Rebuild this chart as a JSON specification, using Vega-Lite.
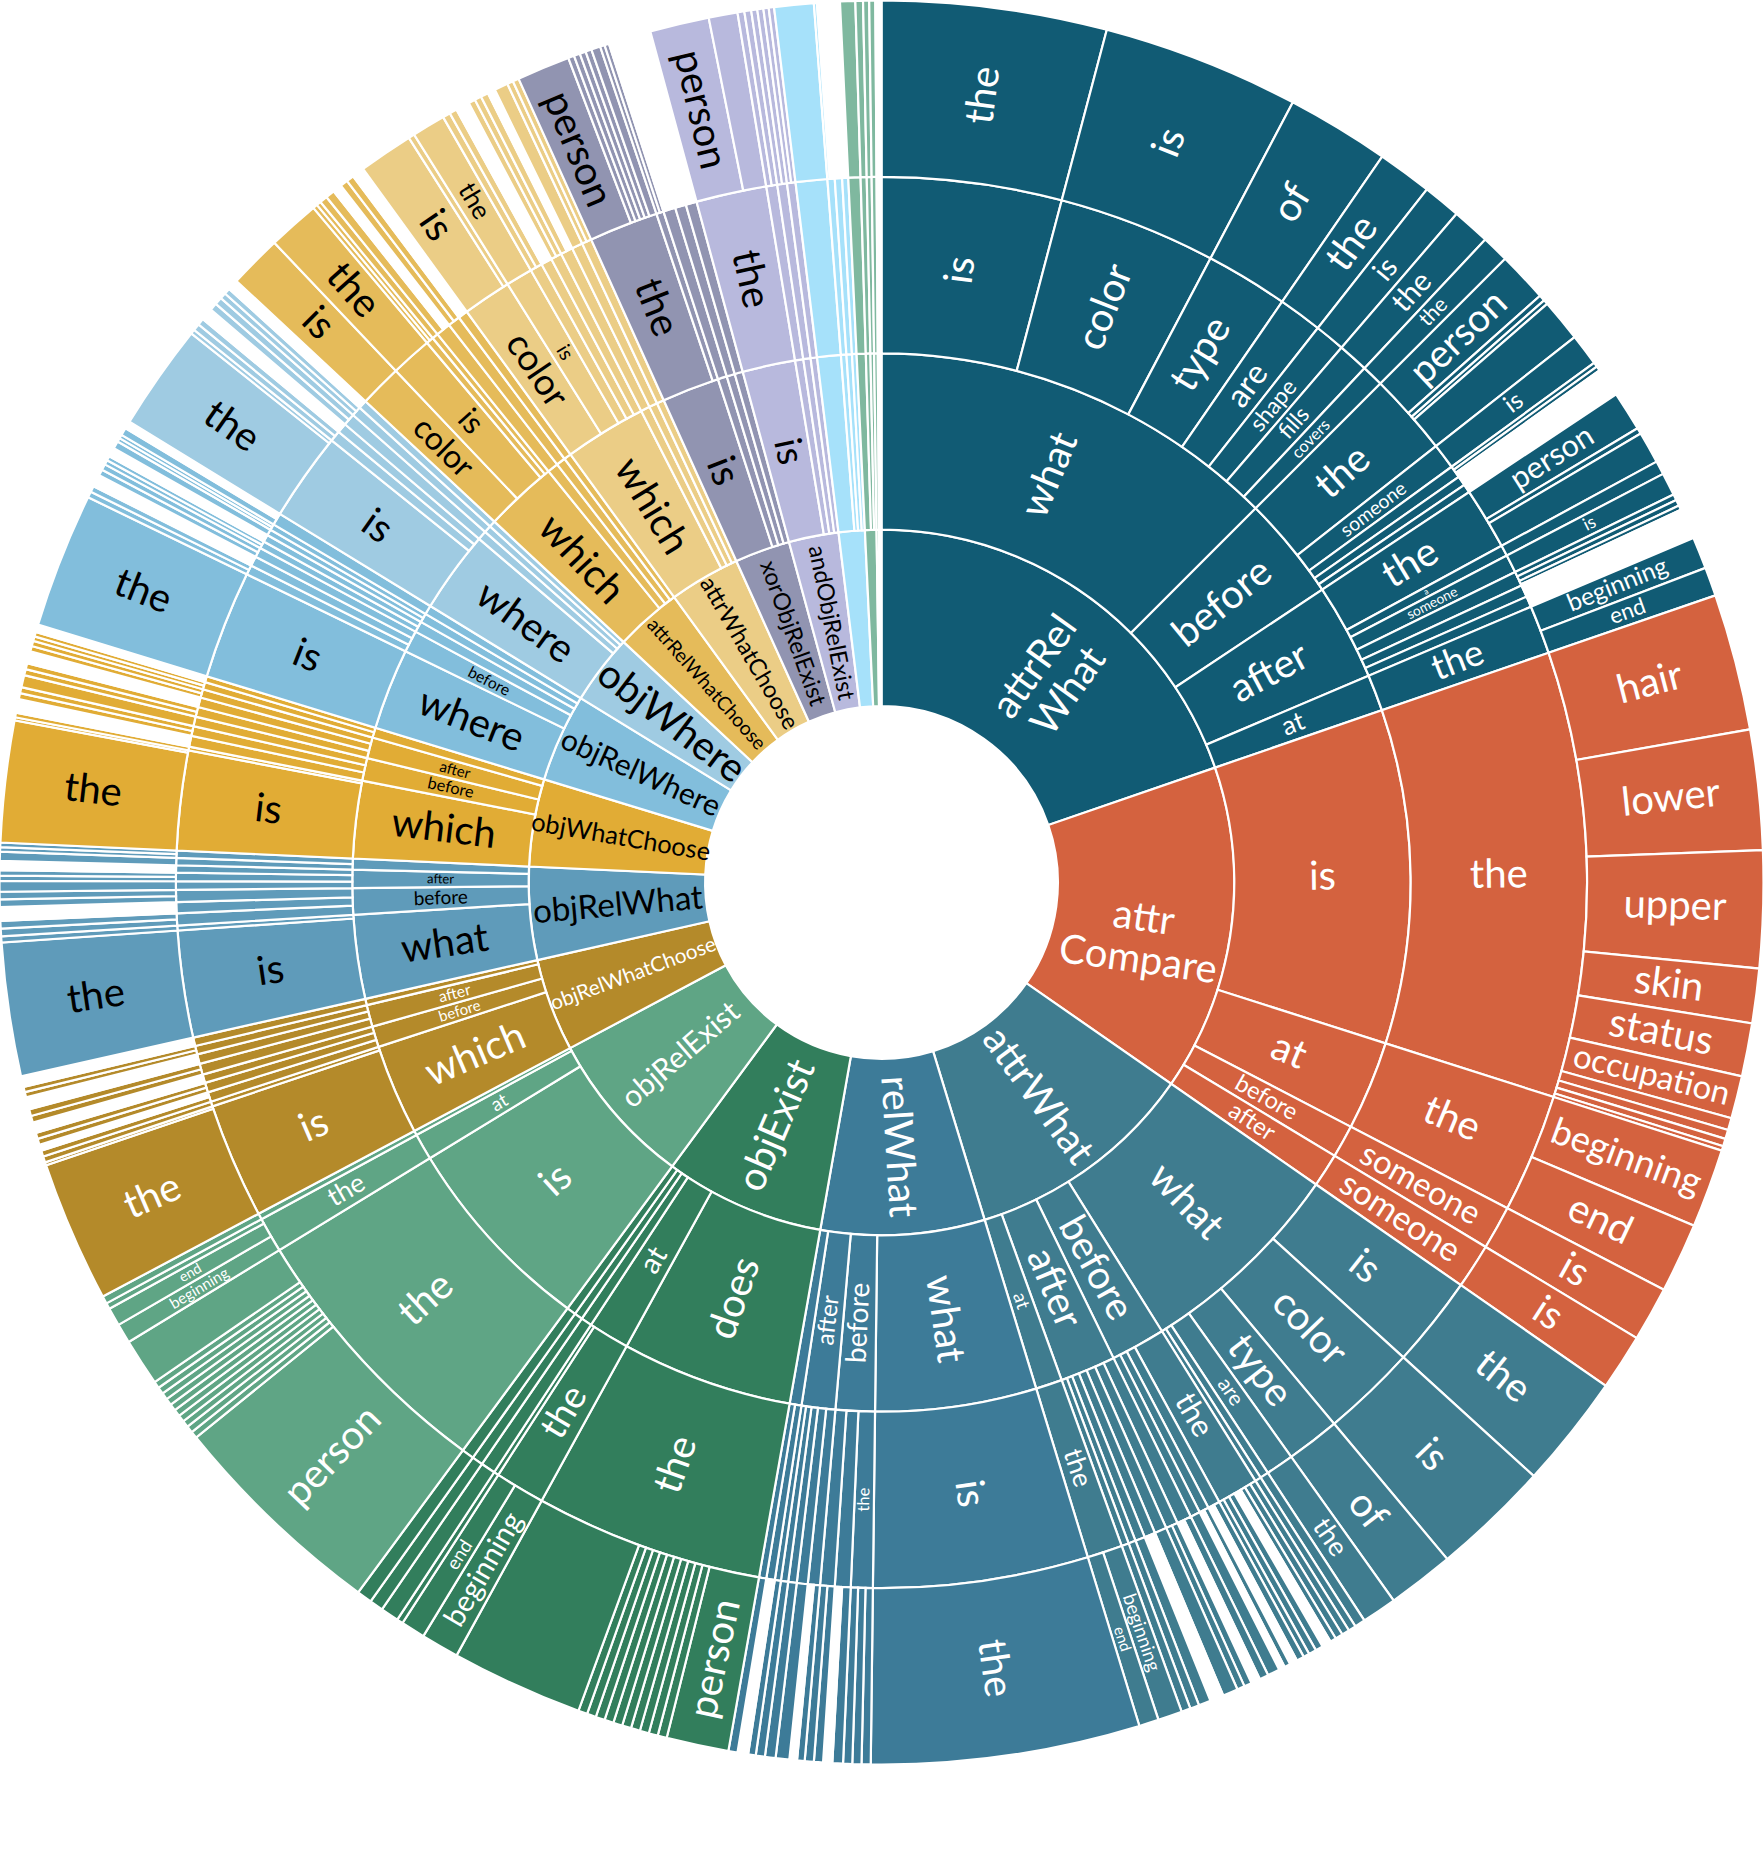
{
"$schema": "https://vega.github.io/schema/vega-lite/v6.json",
"width": 1763, "height": 1765, "padding": 0, "autosize": {"type": "none"},
"background": "white",
"config": {"view": {"stroke": null}},
"data": {"values": [
{"d":1,"c":"attrRelWhat","l":"attrRel\nWhat","v":71},
{"d":2,"c":"attrRelWhat","l":"what","v":45},{"d":2,"c":"attrRelWhat","l":"before","v":11.4},{"d":2,"c":"attrRelWhat","l":"after","v":10.6},{"d":2,"c":"attrRelWhat","l":"at","v":4},
{"d":3,"c":"attrRelWhat","l":"is","v":14.8},{"d":3,"c":"attrRelWhat","l":"color","v":13},{"d":3,"c":"attrRelWhat","l":"type","v":6.8},{"d":3,"c":"attrRelWhat","l":"are","v":3.6},{"d":3,"c":"attrRelWhat","l":"shape","v":2.5},{"d":3,"c":"attrRelWhat","l":"fills","v":2.5},{"d":3,"c":"attrRelWhat","l":"covers","v":1.8},
{"d":3,"c":"attrRelWhat","l":"the","v":6.8},{"d":3,"c":"attrRelWhat","l":"someone","v":2.1},{"d":3,"c":"attrRelWhat","l":"","v":1.0},{"d":3,"c":"attrRelWhat","l":"","v":0.8},{"d":3,"c":"attrRelWhat","l":"","v":0.7},
{"d":3,"c":"attrRelWhat","l":"the","v":5.1},{"d":3,"c":"attrRelWhat","l":"a","v":0.9},{"d":3,"c":"attrRelWhat","l":"someone","v":1.5},{"d":3,"c":"attrRelWhat","l":"","v":1.2},{"d":3,"c":"attrRelWhat","l":"","v":1.0},{"d":3,"c":"attrRelWhat","l":"","v":0.9},
{"d":3,"c":"attrRelWhat","l":"the","v":4},
{"d":4,"c":"attrRelWhat","l":"the","v":14.8},{"d":4,"c":"attrRelWhat","l":"is","v":13},{"d":4,"c":"attrRelWhat","l":"of","v":6.8},{"d":4,"c":"attrRelWhat","l":"the","v":3.6},{"d":4,"c":"attrRelWhat","l":"is","v":2.5},{"d":4,"c":"attrRelWhat","l":"the","v":2.5},{"d":4,"c":"attrRelWhat","l":"the","v":1.8},
{"d":4,"c":"attrRelWhat","l":"person","v":3.3},{"d":4,"c":"attrRelWhat","l":"","v":0.4},{"d":4,"c":"attrRelWhat","l":"","v":0.3},{"d":4,"c":"attrRelWhat","l":"","v":2.8},
{"d":4,"c":"attrRelWhat","l":"is","v":2.1},{"d":4,"c":"attrRelWhat","l":"","v":0.3},{"d":4,"c":"attrRelWhat","l":"","v":0.3},{"d":4,"c":"gap","l":"","v":1.9},
{"d":4,"c":"attrRelWhat","l":"person","v":2.6},{"d":4,"c":"attrRelWhat","l":"","v":0.4},{"d":4,"c":"attrRelWhat","l":"","v":2.1},{"d":4,"c":"attrRelWhat","l":"","v":0.9},{"d":4,"c":"attrRelWhat","l":"is","v":1.5},
{"d":4,"c":"attrRelWhat","l":"","v":0.4},{"d":4,"c":"attrRelWhat","l":"","v":0.4},{"d":4,"c":"attrRelWhat","l":"","v":0.3},{"d":4,"c":"gap","l":"","v":2.0},
{"d":4,"c":"attrRelWhat","l":"beginning","v":2.1},{"d":4,"c":"attrRelWhat","l":"end","v":1.9},

{"d":1,"c":"attrCompare","l":"attr\nCompare","v":53.8},
{"d":2,"c":"attrCompare","l":"is","v":36.7},{"d":2,"c":"attrCompare","l":"at","v":9.8},{"d":2,"c":"attrCompare","l":"before","v":3.6},{"d":2,"c":"attrCompare","l":"after","v":3.7},
{"d":3,"c":"attrCompare","l":"the","v":36.7},{"d":3,"c":"attrCompare","l":"the","v":9.8},{"d":3,"c":"attrCompare","l":"someone","v":3.6},{"d":3,"c":"attrCompare","l":"someone","v":3.7},
{"d":4,"c":"attrCompare","l":"hair","v":9},{"d":4,"c":"attrCompare","l":"lower","v":7.9},{"d":4,"c":"attrCompare","l":"upper","v":7.7},{"d":4,"c":"attrCompare","l":"skin","v":3.6},{"d":4,"c":"attrCompare","l":"status","v":3.5},{"d":4,"c":"attrCompare","l":"occupation","v":2.8},
{"d":4,"c":"attrCompare","l":"","v":0.8},{"d":4,"c":"attrCompare","l":"","v":0.6},{"d":4,"c":"attrCompare","l":"","v":0.5},{"d":4,"c":"attrCompare","l":"","v":0.3},
{"d":4,"c":"attrCompare","l":"beginning","v":5.2},{"d":4,"c":"attrCompare","l":"end","v":4.6},{"d":4,"c":"attrCompare","l":"is","v":3.6},{"d":4,"c":"attrCompare","l":"is","v":3.7},

{"d":1,"c":"attrWhat","l":"attrWhat","v":38.2},
{"d":2,"c":"attrWhat","l":"what","v":23.2},{"d":2,"c":"attrWhat","l":"before","v":6},{"d":2,"c":"attrWhat","l":"after","v":6.1},{"d":2,"c":"attrWhat","l":"at","v":2.9},
{"d":3,"c":"attrWhat","l":"is","v":7.5},{"d":3,"c":"attrWhat","l":"color","v":7.8},{"d":3,"c":"attrWhat","l":"type","v":4.4},{"d":3,"c":"attrWhat","l":"are","v":2.3},{"d":3,"c":"attrWhat","l":"","v":0.7},{"d":3,"c":"attrWhat","l":"","v":0.5},
{"d":3,"c":"attrWhat","l":"the","v":3.4},{"d":3,"c":"attrWhat","l":"","v":1.0},{"d":3,"c":"attrWhat","l":"","v":0.8},{"d":3,"c":"attrWhat","l":"","v":0.8},
{"d":3,"c":"attrWhat","l":"","v":1.2},{"d":3,"c":"attrWhat","l":"","v":1.0},{"d":3,"c":"attrWhat","l":"","v":1.0},{"d":3,"c":"attrWhat","l":"","v":0.9},{"d":3,"c":"attrWhat","l":"","v":0.8},{"d":3,"c":"attrWhat","l":"","v":0.6},{"d":3,"c":"attrWhat","l":"","v":0.6},
{"d":3,"c":"attrWhat","l":"the","v":2.9},
{"d":4,"c":"attrWhat","l":"the","v":7.5},{"d":4,"c":"attrWhat","l":"is","v":7.8},{"d":4,"c":"attrWhat","l":"of","v":4.4},{"d":4,"c":"attrWhat","l":"the","v":2.3},{"d":4,"c":"attrWhat","l":"","v":0.7},{"d":4,"c":"attrWhat","l":"","v":0.5},
{"d":4,"c":"attrWhat","l":"","v":0.5},{"d":4,"c":"attrWhat","l":"","v":0.5},{"d":4,"c":"attrWhat","l":"","v":0.4},{"d":4,"c":"gap","l":"","v":0.6},{"d":4,"c":"attrWhat","l":"","v":0.5},{"d":4,"c":"attrWhat","l":"","v":0.5},{"d":4,"c":"attrWhat","l":"","v":0.4},
{"d":4,"c":"attrWhat","l":"","v":0.5},{"d":4,"c":"gap","l":"","v":0.5},{"d":4,"c":"attrWhat","l":"","v":0.4},{"d":4,"c":"gap","l":"","v":0.4},{"d":4,"c":"attrWhat","l":"","v":0.8},
{"d":4,"c":"attrWhat","l":"","v":0.6},{"d":4,"c":"gap","l":"","v":0.6},{"d":4,"c":"attrWhat","l":"","v":0.5},{"d":4,"c":"attrWhat","l":"","v":0.5},{"d":4,"c":"attrWhat","l":"","v":1.0},{"d":4,"c":"gap","l":"","v":0.9},{"d":4,"c":"attrWhat","l":"","v":0.8},{"d":4,"c":"attrWhat","l":"","v":0.6},{"d":4,"c":"attrWhat","l":"","v":0.6},
{"d":4,"c":"attrWhat","l":"beginning","v":1.6},{"d":4,"c":"attrWhat","l":"end","v":1.3},

{"d":1,"c":"relWhat","l":"relWhat","v":27},
{"d":2,"c":"relWhat","l":"what","v":17.7},{"d":2,"c":"relWhat","l":"before","v":4.3},{"d":2,"c":"relWhat","l":"after","v":3.7},{"d":2,"c":"relWhat","l":"","v":1.3},
{"d":3,"c":"relWhat","l":"is","v":17.7},{"d":3,"c":"relWhat","l":"the","v":1.8},{"d":3,"c":"relWhat","l":"","v":1.3},{"d":3,"c":"relWhat","l":"","v":1.2},{"d":3,"c":"relWhat","l":"","v":1.0},{"d":3,"c":"relWhat","l":"","v":0.9},{"d":3,"c":"relWhat","l":"","v":0.7},{"d":3,"c":"relWhat","l":"","v":0.6},{"d":3,"c":"relWhat","l":"","v":0.5},{"d":3,"c":"relWhat","l":"","v":0.7},{"d":3,"c":"relWhat","l":"","v":0.6},
{"d":4,"c":"relWhat","l":"the","v":17.7},{"d":4,"c":"relWhat","l":"","v":0.6},{"d":4,"c":"relWhat","l":"","v":0.6},{"d":4,"c":"relWhat","l":"","v":0.6},{"d":4,"c":"relWhat","l":"","v":0.7},{"d":4,"c":"gap","l":"","v":0.6},{"d":4,"c":"relWhat","l":"","v":0.6},{"d":4,"c":"relWhat","l":"","v":0.6},
{"d":4,"c":"relWhat","l":"","v":0.5},{"d":4,"c":"gap","l":"","v":0.5},{"d":4,"c":"relWhat","l":"","v":0.9},{"d":4,"c":"relWhat","l":"","v":0.7},{"d":4,"c":"relWhat","l":"","v":0.6},{"d":4,"c":"relWhat","l":"","v":0.5},{"d":4,"c":"gap","l":"","v":0.7},{"d":4,"c":"relWhat","l":"","v":0.6},

{"d":1,"c":"objExist","l":"objExist","v":26.4},
{"d":2,"c":"objExist","l":"does","v":18.8},{"d":2,"c":"objExist","l":"at","v":4.5},{"d":2,"c":"objExist","l":"","v":1.2},{"d":2,"c":"objExist","l":"","v":0.9},{"d":2,"c":"objExist","l":"","v":1.0},
{"d":3,"c":"objExist","l":"the","v":18.8},{"d":3,"c":"objExist","l":"the","v":4.1},{"d":3,"c":"objExist","l":"","v":0.4},{"d":3,"c":"objExist","l":"","v":1.2},{"d":3,"c":"objExist","l":"","v":0.9},{"d":3,"c":"objExist","l":"","v":1.0},
{"d":4,"c":"objExist","l":"person","v":4.1},
{"d":4,"c":"objExist","l":"","v":0.6},{"d":4,"c":"objExist","l":"","v":0.6},{"d":4,"c":"objExist","l":"","v":0.6},{"d":4,"c":"objExist","l":"","v":0.6},{"d":4,"c":"objExist","l":"","v":0.6},{"d":4,"c":"objExist","l":"","v":0.6},{"d":4,"c":"objExist","l":"","v":0.6},{"d":4,"c":"objExist","l":"","v":0.6},{"d":4,"c":"objExist","l":"","v":0.6},{"d":4,"c":"objExist","l":"","v":0.6},
{"d":4,"c":"objExist","l":"","v":8.7},{"d":4,"c":"objExist","l":"beginning","v":2.5},{"d":4,"c":"objExist","l":"end","v":1.6},{"d":4,"c":"objExist","l":"","v":0.4},{"d":4,"c":"objExist","l":"","v":1.2},{"d":4,"c":"objExist","l":"","v":0.9},{"d":4,"c":"objExist","l":"","v":1.0},

{"d":1,"c":"objRelExist","l":"objRelExist","v":25.6},
{"d":2,"c":"objRelExist","l":"is","v":22.2},{"d":2,"c":"objRelExist","l":"at","v":2.9},{"d":2,"c":"objRelExist","l":"","v":0.5},
{"d":3,"c":"objRelExist","l":"the","v":22.2},{"d":3,"c":"objRelExist","l":"the","v":2.9},{"d":3,"c":"objRelExist","l":"","v":0.5},
{"d":4,"c":"objRelExist","l":"person","v":14.6},
{"d":4,"c":"objRelExist","l":"","v":0.45},{"d":4,"c":"objRelExist","l":"","v":0.45},{"d":4,"c":"objRelExist","l":"","v":0.45},{"d":4,"c":"objRelExist","l":"","v":0.45},{"d":4,"c":"objRelExist","l":"","v":0.45},{"d":4,"c":"objRelExist","l":"","v":0.45},{"d":4,"c":"objRelExist","l":"","v":0.45},{"d":4,"c":"objRelExist","l":"","v":0.45},{"d":4,"c":"objRelExist","l":"","v":0.45},{"d":4,"c":"objRelExist","l":"","v":0.45},
{"d":4,"c":"objRelExist","l":"","v":3.1},{"d":4,"c":"objRelExist","l":"beginning","v":1.3},{"d":4,"c":"objRelExist","l":"end","v":1.2},{"d":4,"c":"objRelExist","l":"","v":0.4},{"d":4,"c":"objRelExist","l":"","v":0.5},

{"d":1,"c":"objRelWhatChoose","l":"objRelWhatChoose","v":15.3},
{"d":2,"c":"objRelWhatChoose","l":"which","v":9.9},{"d":2,"c":"objRelWhatChoose","l":"before","v":2.3},{"d":2,"c":"objRelWhatChoose","l":"after","v":2.4},{"d":2,"c":"objRelWhatChoose","l":"","v":0.7},
{"d":3,"c":"objRelWhatChoose","l":"is","v":9.5},{"d":3,"c":"objRelWhatChoose","l":"","v":0.4},{"d":3,"c":"objRelWhatChoose","l":"","v":0.8},{"d":3,"c":"objRelWhatChoose","l":"","v":0.8},{"d":3,"c":"objRelWhatChoose","l":"","v":0.7},{"d":3,"c":"objRelWhatChoose","l":"","v":0.9},{"d":3,"c":"objRelWhatChoose","l":"","v":0.8},{"d":3,"c":"objRelWhatChoose","l":"","v":0.7},{"d":3,"c":"objRelWhatChoose","l":"","v":0.7},
{"d":4,"c":"objRelWhatChoose","l":"the","v":9.3},{"d":4,"c":"objRelWhatChoose","l":"","v":0.2},{"d":4,"c":"objRelWhatChoose","l":"","v":0.4},{"d":4,"c":"objRelWhatChoose","l":"","v":0.4},{"d":4,"c":"gap","l":"","v":0.4},{"d":4,"c":"objRelWhatChoose","l":"","v":0.4},{"d":4,"c":"objRelWhatChoose","l":"","v":0.4},{"d":4,"c":"gap","l":"","v":0.7},
{"d":4,"c":"objRelWhatChoose","l":"","v":0.45},{"d":4,"c":"objRelWhatChoose","l":"","v":0.45},{"d":4,"c":"gap","l":"","v":0.8},{"d":4,"c":"objRelWhatChoose","l":"","v":0.35},{"d":4,"c":"objRelWhatChoose","l":"","v":0.35},{"d":4,"c":"gap","l":"","v":0.7},

{"d":1,"c":"objRelWhat","l":"objRelWhat","v":15.3},
{"d":2,"c":"objRelWhat","l":"what","v":9.2},{"d":2,"c":"objRelWhat","l":"before","v":2.9},{"d":2,"c":"objRelWhat","l":"after","v":2.0},{"d":2,"c":"objRelWhat","l":"","v":1.2},
{"d":3,"c":"objRelWhat","l":"is","v":8.8},{"d":3,"c":"objRelWhat","l":"","v":0.4},{"d":3,"c":"objRelWhat","l":"","v":1.0},{"d":3,"c":"objRelWhat","l":"","v":0.9},{"d":3,"c":"objRelWhat","l":"","v":1.0},{"d":3,"c":"objRelWhat","l":"","v":0.7},{"d":3,"c":"objRelWhat","l":"","v":0.7},{"d":3,"c":"objRelWhat","l":"","v":0.6},{"d":3,"c":"objRelWhat","l":"","v":0.6},{"d":3,"c":"objRelWhat","l":"","v":0.6},
{"d":4,"c":"objRelWhat","l":"the","v":8.8},{"d":4,"c":"objRelWhat","l":"","v":0.4},{"d":4,"c":"objRelWhat","l":"","v":0.5},{"d":4,"c":"objRelWhat","l":"","v":0.5},{"d":4,"c":"gap","l":"","v":0.9},{"d":4,"c":"objRelWhat","l":"","v":0.5},{"d":4,"c":"objRelWhat","l":"","v":0.5},
{"d":4,"c":"objRelWhat","l":"","v":0.7},{"d":4,"c":"objRelWhat","l":"","v":0.35},{"d":4,"c":"objRelWhat","l":"","v":0.35},{"d":4,"c":"gap","l":"","v":0.6},{"d":4,"c":"objRelWhat","l":"","v":0.6},{"d":4,"c":"objRelWhat","l":"","v":0.3},{"d":4,"c":"objRelWhat","l":"","v":0.3},

{"d":1,"c":"objWhatChoose","l":"objWhatChoose","v":14.4},
{"d":2,"c":"objWhatChoose","l":"which","v":8.5},{"d":2,"c":"objWhatChoose","l":"before","v":2.5},{"d":2,"c":"objWhatChoose","l":"after","v":2.3},{"d":2,"c":"objWhatChoose","l":"","v":1.1},
{"d":3,"c":"objWhatChoose","l":"is","v":8.2},{"d":3,"c":"objWhatChoose","l":"","v":0.3},{"d":3,"c":"objWhatChoose","l":"","v":0.9},{"d":3,"c":"objWhatChoose","l":"","v":0.8},{"d":3,"c":"objWhatChoose","l":"","v":0.8},{"d":3,"c":"objWhatChoose","l":"","v":0.8},{"d":3,"c":"objWhatChoose","l":"","v":0.8},{"d":3,"c":"objWhatChoose","l":"","v":0.7},{"d":3,"c":"objWhatChoose","l":"","v":0.6},{"d":3,"c":"objWhatChoose","l":"","v":0.5},
{"d":4,"c":"objWhatChoose","l":"the","v":8.0},{"d":4,"c":"objWhatChoose","l":"","v":0.2},{"d":4,"c":"objWhatChoose","l":"","v":0.3},{"d":4,"c":"gap","l":"","v":0.9},{"d":4,"c":"objWhatChoose","l":"","v":0.4},{"d":4,"c":"objWhatChoose","l":"","v":0.4},{"d":4,"c":"objWhatChoose","l":"","v":0.8},
{"d":4,"c":"objWhatChoose","l":"","v":0.4},{"d":4,"c":"objWhatChoose","l":"","v":0.4},{"d":4,"c":"gap","l":"","v":0.8},{"d":4,"c":"objWhatChoose","l":"","v":0.35},{"d":4,"c":"objWhatChoose","l":"","v":0.35},{"d":4,"c":"objWhatChoose","l":"","v":0.3},{"d":4,"c":"objWhatChoose","l":"","v":0.3},{"d":4,"c":"gap","l":"","v":0.5},

{"d":1,"c":"objRelWhere","l":"objRelWhere","v":14.5},
{"d":2,"c":"objRelWhere","l":"where","v":8.9},{"d":2,"c":"objRelWhere","l":"before","v":2.4},{"d":2,"c":"objRelWhere","l":"","v":1.2},{"d":2,"c":"objRelWhere","l":"","v":1.0},{"d":2,"c":"objRelWhere","l":"","v":1.0},
{"d":3,"c":"objRelWhere","l":"is","v":8.9},{"d":3,"c":"objRelWhere","l":"","v":0.8},{"d":3,"c":"objRelWhere","l":"","v":0.8},{"d":3,"c":"objRelWhere","l":"","v":0.8},{"d":3,"c":"objRelWhere","l":"","v":0.6},{"d":3,"c":"objRelWhere","l":"","v":0.6},{"d":3,"c":"objRelWhere","l":"","v":0.5},{"d":3,"c":"objRelWhere","l":"","v":0.5},{"d":3,"c":"objRelWhere","l":"","v":1.0},
{"d":4,"c":"objRelWhere","l":"the","v":8.9},{"d":4,"c":"objRelWhere","l":"","v":0.4},{"d":4,"c":"objRelWhere","l":"","v":0.4},{"d":4,"c":"gap","l":"","v":0.8},{"d":4,"c":"objRelWhere","l":"","v":0.4},{"d":4,"c":"objRelWhere","l":"","v":0.4},
{"d":4,"c":"objRelWhere","l":"","v":0.3},{"d":4,"c":"objRelWhere","l":"","v":0.3},{"d":4,"c":"gap","l":"","v":0.6},{"d":4,"c":"objRelWhere","l":"","v":0.5},{"d":4,"c":"objRelWhere","l":"","v":0.25},{"d":4,"c":"objRelWhere","l":"","v":0.25},{"d":4,"c":"objRelWhere","l":"","v":0.5},{"d":4,"c":"gap","l":"","v":0.5},

{"d":1,"c":"objWhere","l":"objWhere","v":11.5},
{"d":2,"c":"objWhere","l":"where","v":9},{"d":2,"c":"objWhere","l":"","v":1.0},{"d":2,"c":"objWhere","l":"","v":0.8},{"d":2,"c":"objWhere","l":"","v":0.7},
{"d":3,"c":"objWhere","l":"is","v":7.3},{"d":3,"c":"objWhere","l":"","v":0.9},{"d":3,"c":"objWhere","l":"","v":0.8},{"d":3,"c":"objWhere","l":"","v":1.0},{"d":3,"c":"objWhere","l":"","v":0.8},{"d":3,"c":"objWhere","l":"","v":0.7},
{"d":4,"c":"objWhere","l":"the","v":7.0},{"d":4,"c":"objWhere","l":"","v":0.3},{"d":4,"c":"objWhere","l":"","v":0.45},{"d":4,"c":"objWhere","l":"","v":0.45},{"d":4,"c":"gap","l":"","v":0.8},{"d":4,"c":"objWhere","l":"","v":0.5},{"d":4,"c":"objWhere","l":"","v":0.5},{"d":4,"c":"objWhere","l":"","v":0.4},{"d":4,"c":"objWhere","l":"","v":0.4},{"d":4,"c":"gap","l":"","v":0.7},

{"d":1,"c":"attrRelWhatChoose","l":"attrRelWhatChoose","v":11},
{"d":2,"c":"attrRelWhatChoose","l":"which","v":8},{"d":2,"c":"attrRelWhatChoose","l":"","v":1.2},{"d":2,"c":"attrRelWhatChoose","l":"","v":1.0},{"d":2,"c":"attrRelWhatChoose","l":"","v":0.8},
{"d":3,"c":"attrRelWhatChoose","l":"color","v":3.5},{"d":3,"c":"attrRelWhatChoose","l":"is","v":3.4},{"d":3,"c":"attrRelWhatChoose","l":"","v":0.6},{"d":3,"c":"attrRelWhatChoose","l":"","v":0.5},{"d":3,"c":"attrRelWhatChoose","l":"","v":1.2},{"d":3,"c":"attrRelWhatChoose","l":"","v":1.0},{"d":3,"c":"attrRelWhatChoose","l":"","v":0.8},
{"d":4,"c":"attrRelWhatChoose","l":"is","v":3.5},{"d":4,"c":"attrRelWhatChoose","l":"the","v":3.4},{"d":4,"c":"attrRelWhatChoose","l":"","v":0.3},{"d":4,"c":"attrRelWhatChoose","l":"","v":0.3},{"d":4,"c":"attrRelWhatChoose","l":"","v":0.5},{"d":4,"c":"attrRelWhatChoose","l":"","v":0.6},{"d":4,"c":"gap","l":"","v":0.6},{"d":4,"c":"attrRelWhatChoose","l":"","v":0.5},{"d":4,"c":"attrRelWhatChoose","l":"","v":0.5},{"d":4,"c":"gap","l":"","v":0.8},

{"d":1,"c":"attrWhatChoose","l":"attrWhatChoose","v":11.7},
{"d":2,"c":"attrWhatChoose","l":"which","v":9},{"d":2,"c":"attrWhatChoose","l":"","v":1.0},{"d":2,"c":"attrWhatChoose","l":"","v":0.9},{"d":2,"c":"attrWhatChoose","l":"","v":0.8},
{"d":3,"c":"attrWhatChoose","l":"color","v":4.0},{"d":3,"c":"attrWhatChoose","l":"is","v":2.2},{"d":3,"c":"attrWhatChoose","l":"","v":1.0},{"d":3,"c":"attrWhatChoose","l":"","v":0.9},{"d":3,"c":"attrWhatChoose","l":"","v":0.9},{"d":3,"c":"attrWhatChoose","l":"","v":1.0},{"d":3,"c":"attrWhatChoose","l":"","v":0.9},{"d":3,"c":"attrWhatChoose","l":"","v":0.8},
{"d":4,"c":"attrWhatChoose","l":"is","v":3.6},{"d":4,"c":"attrWhatChoose","l":"","v":0.4},{"d":4,"c":"attrWhatChoose","l":"the","v":2.2},{"d":4,"c":"attrWhatChoose","l":"","v":0.5},{"d":4,"c":"attrWhatChoose","l":"","v":0.5},{"d":4,"c":"gap","l":"","v":0.9},{"d":4,"c":"attrWhatChoose","l":"","v":0.45},{"d":4,"c":"attrWhatChoose","l":"","v":0.45},
{"d":4,"c":"attrWhatChoose","l":"","v":0.5},{"d":4,"c":"gap","l":"","v":0.5},{"d":4,"c":"attrWhatChoose","l":"","v":0.9},{"d":4,"c":"attrWhatChoose","l":"","v":0.4},{"d":4,"c":"attrWhatChoose","l":"","v":0.4},

{"d":1,"c":"xorObjRelExist","l":"xorObjRelExist","v":9.1},
{"d":2,"c":"xorObjRelExist","l":"is","v":6.3},{"d":2,"c":"xorObjRelExist","l":"","v":1.0},{"d":2,"c":"xorObjRelExist","l":"","v":0.9},{"d":2,"c":"xorObjRelExist","l":"","v":0.9},
{"d":3,"c":"xorObjRelExist","l":"the","v":5.7},{"d":3,"c":"xorObjRelExist","l":"","v":0.6},{"d":3,"c":"xorObjRelExist","l":"","v":1.0},{"d":3,"c":"xorObjRelExist","l":"","v":0.9},{"d":3,"c":"xorObjRelExist","l":"","v":0.9},
{"d":4,"c":"xorObjRelExist","l":"person","v":3.5},{"d":4,"c":"xorObjRelExist","l":"","v":0.4},{"d":4,"c":"xorObjRelExist","l":"","v":0.4},{"d":4,"c":"xorObjRelExist","l":"","v":0.4},{"d":4,"c":"xorObjRelExist","l":"","v":0.4},{"d":4,"c":"xorObjRelExist","l":"","v":0.6},{"d":4,"c":"xorObjRelExist","l":"","v":0.3},{"d":4,"c":"xorObjRelExist","l":"","v":0.3},{"d":4,"c":"gap","l":"","v":1.0},{"d":4,"c":"gap","l":"","v":0.9},{"d":4,"c":"gap","l":"","v":0.9},

{"d":1,"c":"andObjRelExist","l":"andObjRelExist","v":8.2},
{"d":2,"c":"andObjRelExist","l":"is","v":5.8},{"d":2,"c":"andObjRelExist","l":"","v":0.9},{"d":2,"c":"andObjRelExist","l":"","v":0.8},{"d":2,"c":"andObjRelExist","l":"","v":0.7},
{"d":3,"c":"andObjRelExist","l":"the","v":5.8},{"d":3,"c":"andObjRelExist","l":"","v":0.9},{"d":3,"c":"andObjRelExist","l":"","v":0.8},{"d":3,"c":"andObjRelExist","l":"","v":0.7},
{"d":4,"c":"andObjRelExist","l":"person","v":3.9},{"d":4,"c":"andObjRelExist","l":"","v":1.9},{"d":4,"c":"andObjRelExist","l":"","v":0.45},{"d":4,"c":"andObjRelExist","l":"","v":0.45},{"d":4,"c":"andObjRelExist","l":"","v":0.4},{"d":4,"c":"andObjRelExist","l":"","v":0.4},{"d":4,"c":"andObjRelExist","l":"","v":0.35},{"d":4,"c":"andObjRelExist","l":"","v":0.35},

{"d":1,"c":"other1","l":"","v":4.3},
{"d":2,"c":"other1","l":"","v":2.6},{"d":2,"c":"other1","l":"","v":0.6},{"d":2,"c":"other1","l":"","v":0.6},{"d":2,"c":"other1","l":"","v":0.5},
{"d":3,"c":"other1","l":"","v":2.6},{"d":3,"c":"other1","l":"","v":0.6},{"d":3,"c":"other1","l":"","v":0.6},{"d":3,"c":"other1","l":"","v":0.5},
{"d":4,"c":"other1","l":"","v":2.6},{"d":4,"c":"other1","l":"","v":0.2},{"d":4,"c":"gap","l":"","v":1.5},

{"d":1,"c":"other2","l":"","v":1.9},{"d":1,"c":"other2","l":"","v":0.4},{"d":1,"c":"gap","l":"","v":0.4},
{"d":2,"c":"other2","l":"","v":1.0},{"d":2,"c":"other2","l":"","v":0.5},{"d":2,"c":"other2","l":"","v":0.4},{"d":2,"c":"other2","l":"","v":0.4},{"d":2,"c":"gap","l":"","v":0.4},
{"d":3,"c":"other2","l":"","v":1.0},{"d":3,"c":"other2","l":"","v":0.5},{"d":3,"c":"other2","l":"","v":0.4},{"d":3,"c":"other2","l":"","v":0.4},{"d":3,"c":"gap","l":"","v":0.4},
{"d":4,"c":"other2","l":"","v":1.0},{"d":4,"c":"other2","l":"","v":0.5},{"d":4,"c":"other2","l":"","v":0.4},{"d":4,"c":"other2","l":"","v":0.4},{"d":4,"c":"gap","l":"","v":0.4}
]},
"transform": [
 {"window": [{"op": "row_number", "as": "i"}]},
 {"stack": "v", "groupby": ["d"], "sort": [{"field": "i", "order": "ascending"}], "as": ["t0", "t1"]},
 {"calculate": "datum.d + 1", "as": "d2"},
 {"calculate": "(datum.t0 + datum.t1) / 2", "as": "tm"},
 {"calculate": "datum.d + 0.5", "as": "rm"},
 {"calculate": "datum.tm < 180 ? datum.tm - 90 : datum.tm - 270", "as": "rot"},
 {"calculate": "split(datum.l, '\\n')", "as": "ls"},
 {"calculate": "max(length(datum.ls[0]), length(datum.ls) > 1 ? length(datum.ls[1]) : 0)", "as": "len"},
 {"calculate": "min(40, datum.v * PI / 180 * datum.rm * 176.4 * 0.85 / length(datum.ls), 172 / (max(datum.len, 1) * 0.52))", "as": "fs"}
],
"layer": [
 {
  "mark": {"type": "arc", "stroke": "white", "strokeWidth": 2.2},
  "encoding": {
   "theta": {"field": "t0", "type": "quantitative", "stack": null, "scale": {"domain": [0, 360]}},
   "theta2": {"field": "t1"},
   "radius": {"field": "d2", "type": "quantitative", "scale": {"type": "linear", "domain": [0, 5], "range": [0, 882], "zero": true}},
   "radius2": {"field": "d"},
   "color": {"field": "c", "type": "nominal", "legend": null,
     "scale": {"domain": ["attrRelWhat","attrCompare","attrWhat","relWhat","objExist","objRelExist","objRelWhatChoose","objRelWhat","objWhatChoose","objRelWhere","objWhere","attrRelWhatChoose","attrWhatChoose","xorObjRelExist","andObjRelExist","other1","other2","gap"],
               "range": ["#115B74","#D4623F","#3F7C8F","#3D7B98","#327E5C","#5FA585","#B48A2A","#5F9BBA","#E1AC35","#82BEDC","#9FCBE2","#E5BB5A","#EBCD86","#9194B1","#B8B9DD","#A6E1FA","#7FB89F","#FFFFFF"]}}
  }
 },
 {
  "transform": [{"filter": "datum.l != ''"}],
  "mark": {"type": "text", "font": "Lato", "align": "center", "baseline": "middle", "lineBreak": "\n"},
  "encoding": {
   "theta": {"field": "tm", "type": "quantitative", "stack": null},
   "radius": {"field": "rm", "type": "quantitative"},
   "text": {"field": "l"},
   "size": {"field": "fs", "type": "quantitative", "scale": null},
   "angle": {"field": "rot", "type": "quantitative", "scale": null},
   "color": {"field": "c", "type": "nominal", "legend": null,
     "scale": {"domain": ["attrRelWhat","attrCompare","attrWhat","relWhat","objExist","objRelExist","objRelWhatChoose","objRelWhat","objWhatChoose","objRelWhere","objWhere","attrRelWhatChoose","attrWhatChoose","xorObjRelExist","andObjRelExist","other1","other2","gap"],
               "range": ["#FFFFFF","#FFFFFF","#FFFFFF","#FFFFFF","#FFFFFF","#FFFFFF","#FFFFFF","#000000","#000000","#000000","#000000","#000000","#000000","#000000","#000000","#000000","#000000","#000000"]}}
  }
 }
],
"resolve": {"scale": {"color": "independent"}}
}
